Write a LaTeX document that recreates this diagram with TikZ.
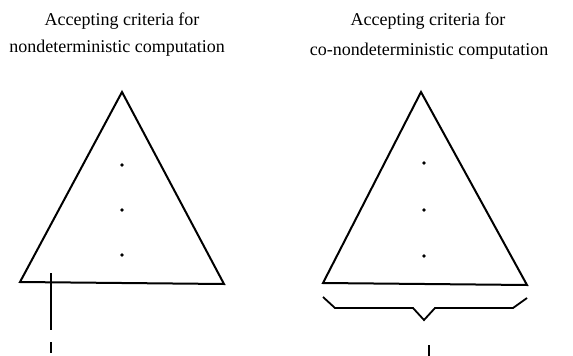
\documentclass[tikz,border=0pt]{standalone}
\usepackage{fontspec}
\setmainfont{Liberation Serif}
\begin{document}
\begin{tikzpicture}[x=1pt,y=-1pt,
  ln/.style={line width=2pt,line join=miter},
  title/.style={font=\fontsize{18}{22}\selectfont,inner sep=0pt,anchor=base},
  dotm/.style={circle,fill=black,inner sep=0pt,minimum size=3.6pt}]
\useasboundingbox (0,0) rectangle (573,356);
% titles
\node[title] (t1a) at (122,25) {Accepting criteria for};
\node[title] (t1b) at (117,52) {nondeterministic computation};
\node[title] (t2a) at (428,25) {Accepting criteria for};
\node[title] (t2b) at (429,55) {co-nondeterministic computation};
% left triangle
\coordinate (La) at (122,92);
\coordinate (Lb) at (20,282);
\coordinate (Lc) at (224,284);
\draw[ln] (La) -- (Lb) -- (Lc) -- cycle;
\node[dotm] (ld1) at (122,165) {};
\node[dotm] (ld2) at (122,210) {};
\node[dotm] (ld3) at (122,255) {};
\coordinate (Lv1) at (51,273);
\coordinate (Lv2) at (51,330);
\coordinate (Lv3) at (51,342);
\coordinate (Lv4) at (51,353);
\draw[line width=1.5pt] (Lv1) -- (Lv2);
\draw[line width=1.5pt] (Lv3) -- (Lv4);
% right triangle
\coordinate (Ra) at (421,92);
\coordinate (Rb) at (323,283);
\coordinate (Rc) at (527,285);
\draw[ln] (Ra) -- (Rb) -- (Rc) -- cycle;
\node[dotm] (rd1) at (424,163) {};
\node[dotm] (rd2) at (424,210) {};
\node[dotm] (rd3) at (424,256) {};
% brace
\coordinate (B1) at (323,297);
\coordinate (B2) at (335,308);
\coordinate (B3) at (413,308);
\coordinate (B4) at (424,320);
\coordinate (B5) at (435,308);
\coordinate (B6) at (513,308);
\coordinate (B7) at (527,298);
\draw[line width=1.8pt,line join=miter] (B1) -- (B2) -- (B3) -- (B4) -- (B5) -- (B6) -- (B7);
\coordinate (Rv1) at (429,345);
\coordinate (Rv2) at (429,356);
\draw[line width=1.8pt] (Rv1) -- (Rv2);
\end{tikzpicture}
\end{document}
